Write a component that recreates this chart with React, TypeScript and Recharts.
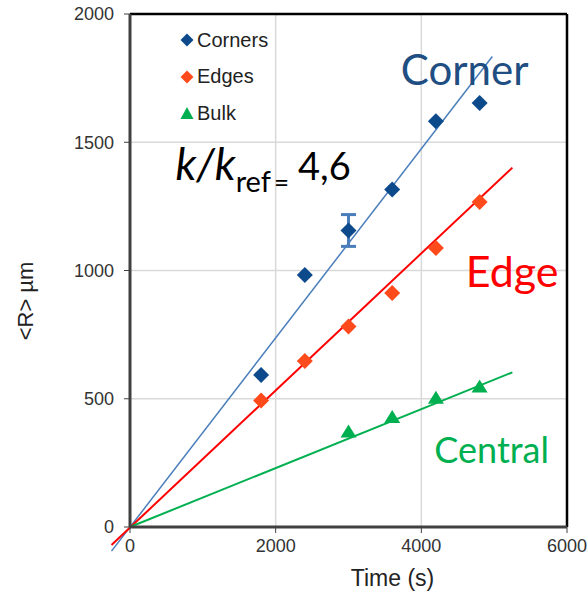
import {
  ComposedChart,
  Scatter,
  XAxis,
  YAxis,
  CartesianGrid,
  ReferenceLine,
  ReferenceDot,
  ErrorBar,
  Legend,
  Label,
} from "recharts";

// measured radius <R> (µm) vs time (s)
const cornerTimes = [1800, 2400, 3000, 3600, 4200, 4800];
const cornerR = [593, 982, 1156, 1316, 1582, 1653];
const edgeTimes = [1800, 2400, 3000, 3600, 4200, 4800];
const edgeR = [493, 647, 782, 912, 1088, 1267];
const bulkTimes = [3000, 3600, 4200, 4800];
const bulkR = [372, 429, 504, 548];

// error bar on one corner point
const errTimes = [3000];
const errR = [1156];
const errHalf = [62];

// linear fits: [start, end]
const cornerFitT = [-254, 4975];
const cornerFitR = [-94, 1834];
const edgeFitT = [-254, 5250];
const edgeFitR = [-70, 1401];
const bulkFitT = [0, 5250];
const bulkFitR = [0, 603];

const xTicks = [0, 2000, 4000, 6000];
const yTicks = [0, 500, 1000, 1500, 2000];

const legendOrder = ["Corners", "Edges", "Bulk"];

// annotation anchors (data coords)
const noteTexts = ["Corner", "Edge", "Central"];
const noteT = [4595, 5247, 4966];
const noteR = [1723, 936, 250];
const ratioT = 625;
const ratioR = 1353;

const BLUE = "#0d4a8c";
const BLUE_LINE = "#4a7ebb";
const ORANGE = "#ff4a1c";
const RED = "#ff0000";
const GREEN = "#00b050";
const NOTE_COLORS = ["#1f4e82", RED, GREEN];
const NOTE_SIZES = [42, 43, 36];
const NOTE_FONT = "Lato, 'Open Sans', sans-serif";
const TICK_FONT = "'Liberation Sans', Arial, sans-serif";

const toPoints = (ts: number[], rs: number[]) => ts.map((t, i) => ({ x: t, y: rs[i] }));

const corners = toPoints(cornerTimes, cornerR);
const edges = toPoints(edgeTimes, edgeR);
const bulk = toPoints(bulkTimes, bulkR);
const errPoint = errTimes.map((t, i) => ({ x: t, y: errR[i], err: errHalf[i] }));

const fitSeg = (ts: number[], rs: number[]) => [
  { x: ts[0], y: rs[0] },
  { x: ts[1], y: rs[1] },
];

const Diamond = (props: any) => {
  const { cx, cy, fill } = props;
  const s = 8;
  return <path d={`M${cx},${cy - s}L${cx + s},${cy}L${cx},${cy + s}L${cx - s},${cy}Z`} fill={fill} />;
};

const Triangle = (props: any) => {
  const { cx, cy, fill } = props;
  return <path d={`M${cx},${cy - 7}L${cx + 8},${cy + 6}L${cx - 8},${cy + 6}Z`} fill={fill} />;
};

const renderLegend = (props: any) => {
  const payload = (props.payload || []).filter((e: any) => legendOrder.includes(e.value));
  payload.sort((a: any, b: any) => legendOrder.indexOf(a.value) - legendOrder.indexOf(b.value));
  return (
    <div style={{ fontFamily: TICK_FONT, fontSize: 20, color: "#222" }}>
      {payload.map((e: any) => (
        <div key={e.value} style={{ display: "flex", alignItems: "center", height: 36.5 }}>
          <svg width={14} height={14} style={{ marginRight: 3 }}>
            {e.value === "Bulk" ? (
              <path d="M7,1L13.5,13L0.5,13Z" fill={e.color} />
            ) : (
              <path d="M7,0.5L13.5,7L7,13.5L0.5,7Z" fill={e.color} />
            )}
          </svg>
          <span>{e.value}</span>
        </div>
      ))}
    </div>
  );
};

export default function App() {
  return (
    <div>
      <style>{"body{margin:0}"}</style>
      <ComposedChart width={588} height={592} margin={{ top: 14, right: 21, bottom: 25, left: 0 }}>
        <CartesianGrid stroke="#d9d9d9" strokeWidth={1.5} />
        <XAxis
          type="number"
          dataKey="x"
          domain={[0, 6000]}
          ticks={xTicks}
          height={40}
          axisLine={{ stroke: "#404040", strokeWidth: 3 }}
          tickLine={{ stroke: "#404040" }}
          tickSize={6}
          tickMargin={6}
          tick={{ fill: "#333", fontSize: 18, fontFamily: TICK_FONT }}
        >
          <Label value="Time (s)" position="center" dx={44} dy={31} fill="#222" fontSize={23} fontFamily={TICK_FONT} />
        </XAxis>
        <YAxis
          type="number"
          dataKey="y"
          domain={[0, 2000]}
          ticks={yTicks}
          width={130}
          axisLine={{ stroke: "#404040", strokeWidth: 3 }}
          tickLine={{ stroke: "#404040" }}
          tickSize={6}
          tickMargin={10}
          tick={{ fill: "#333", fontSize: 18, fontFamily: TICK_FONT }}
        >
          <Label value="<R> µm" angle={-90} position="center" dx={-39.5} dy={30.5} fill="#222" fontSize={22} fontFamily={TICK_FONT} />
        </YAxis>
        <ReferenceLine y={2000} stroke="#000" strokeWidth={2.5} />
        <ReferenceLine x={6000} stroke="#000" strokeWidth={2.5} />

        <Scatter name="Corners" data={corners} fill={BLUE} shape={(p: any) => <Diamond {...p} fill={BLUE} />} isAnimationActive={false} />
        <Scatter name="Edges" data={edges} fill={ORANGE} shape={(p: any) => <Diamond {...p} fill={ORANGE} />} isAnimationActive={false} />
        <Scatter name="Bulk" data={bulk} fill={GREEN} shape={(p: any) => <Triangle {...p} fill={GREEN} />} isAnimationActive={false} />
        <Scatter name="err" data={errPoint} legendType="none" fill={BLUE_LINE} shape={() => <g />} isAnimationActive={false}>
          <ErrorBar dataKey="err" direction="y" width={7.5} stroke={BLUE_LINE} strokeWidth={3} />
        </Scatter>

        <ReferenceLine segment={fitSeg(cornerFitT, cornerFitR)} ifOverflow="visible" stroke={BLUE_LINE} strokeWidth={1.5} />
        <ReferenceLine segment={fitSeg(edgeFitT, edgeFitR)} ifOverflow="visible" stroke={RED} strokeWidth={2} />
        <ReferenceLine segment={fitSeg(bulkFitT, bulkFitR)} ifOverflow="visible" stroke={GREEN} strokeWidth={2} />

        {noteTexts.map((txt, i) => (
          <ReferenceDot
            key={txt}
            x={noteT[i]}
            y={noteR[i]}
            r={0}
            ifOverflow="visible"
            shape={(p: any) => (
              <text x={p.cx} y={p.cy} textAnchor="middle" fill={NOTE_COLORS[i]} fontSize={NOTE_SIZES[i]} fontFamily={NOTE_FONT}>
                {txt}
              </text>
            )}
          />
        ))}
        <ReferenceDot
          x={ratioT}
          y={ratioR}
          r={0}
          ifOverflow="visible"
          shape={(p: any) => (
            <text x={p.cx} y={p.cy} fill="#000" fontFamily={NOTE_FONT}>
              <tspan fontSize={44} fontStyle="italic">k/k</tspan>
              <tspan fontSize={29} dy={12}>ref</tspan>
              <tspan fontSize={26} dx={3}>=</tspan>
              <tspan fontSize={38} dx={9} dy={-12}>4,6</tspan>
            </text>
          )}
        />

        <Legend
          layout="vertical"
          align="center"
          verticalAlign="middle"
          content={renderLegend}
          wrapperStyle={{ left: 180, top: 22, width: "auto", height: "auto" }}
        />
      </ComposedChart>
    </div>
  );
}
